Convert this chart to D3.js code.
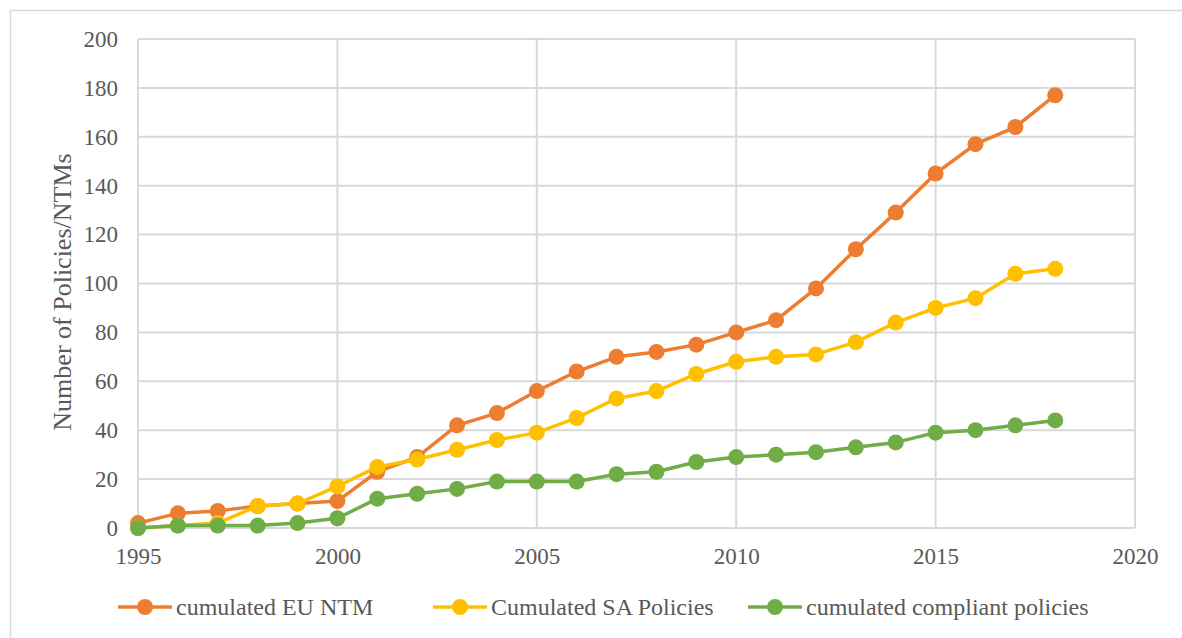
<!DOCTYPE html>
<html>
<head>
<meta charset="utf-8">
<script src="https://cdn.jsdelivr.net/npm/d3@7"></script>
<style>
  body { margin: 0; background: #fff; }
  svg { display: block; }
  svg text { font-family: "Liberation Serif", "Times New Roman", Times, "DejaVu Serif", serif; }
</style>
</head>
<body>
<div id="chart"></div>
<script>
// years on the x axis
var years = [1995, 1996, 1997, 1998, 1999, 2000, 2001, 2002, 2003, 2004, 2005, 2006,
  2007, 2008, 2009, 2010, 2011, 2012, 2013, 2014, 2015, 2016, 2017, 2018];

// series values
var euNtm = [2, 6, 7, 9, 10, 11, 23, 29, 42, 47, 56, 64, 70, 72, 75, 80, 85, 98, 114, 129, 145, 157, 164, 177];
var saPolicies = [0, 1, 2, 9, 10, 17, 25, 28, 32, 36, 39, 45, 53, 56, 63, 68, 70, 71, 76, 84, 90, 94, 104, 106];
var compliant = [0, 1, 1, 1, 2, 4, 12, 14, 16, 19, 19, 19, 22, 23, 27, 29, 30, 31, 33, 35, 39, 40, 42, 44];

var seriesNames = ["cumulated EU NTM", "Cumulated SA Policies", "cumulated compliant policies"];
var seriesColors = ["#ED7D31", "#FFC000", "#70AD47"];

var xTicks = [1995, 2000, 2005, 2010, 2015, 2020];
var yTicks = [0, 20, 40, 60, 80, 100, 120, 140, 160, 180, 200];

var svgWidth = 1182, svgHeight = 638;
var margin = { top: 39, right: 47, bottom: 110, left: 138 };
var width = svgWidth - margin.left - margin.right;
var height = svgHeight - margin.top - margin.bottom;

var svg = d3.select("#chart").append("svg")
  .attr("width", svgWidth)
  .attr("height", svgHeight);

// outer chart frame
svg.append("rect")
  .attr("x", 10.5).attr("y", 10.5)
  .attr("width", 1200).attr("height", 700)
  .attr("fill", "none")
  .attr("stroke", "#d9d9d9")
  .attr("stroke-width", 1.5);

var g = svg.append("g")
  .attr("transform", "translate(" + margin.left + "," + margin.top + ")");

var x = d3.scaleLinear().domain([1995, 2020]).range([0, width]);
var y = d3.scaleLinear().domain([0, 200]).range([height, 0]);

// grid lines
g.append("g")
  .selectAll("line")
  .data(yTicks)
  .join("line")
  .attr("x1", 0).attr("x2", width)
  .attr("y1", function (d) { return y(d); })
  .attr("y2", function (d) { return y(d); })
  .attr("stroke", "#d9d9d9")
  .attr("stroke-width", 2);

g.append("g")
  .selectAll("line")
  .data(xTicks)
  .join("line")
  .attr("x1", function (d) { return x(d); })
  .attr("x2", function (d) { return x(d); })
  .attr("y1", 0).attr("y2", height)
  .attr("stroke", "#d9d9d9")
  .attr("stroke-width", 2);

// axes (labels only)
var yAxis = g.append("g")
  .call(d3.axisLeft(y).tickValues(yTicks).tickSize(0).tickPadding(20));
yAxis.select(".domain").remove();
yAxis.attr("font-family", null);
yAxis.selectAll("text")
  .attr("font-size", 23)
  .attr("fill", "#595959");

var xAxis = g.append("g")
  .attr("transform", "translate(0," + height + ")")
  .call(d3.axisBottom(x).tickValues(xTicks).tickFormat(d3.format("d")).tickSize(0).tickPadding(20));
xAxis.select(".domain").remove();
xAxis.attr("font-family", null);
xAxis.selectAll("text")
  .attr("font-size", 23)
  .attr("fill", "#595959");

// y axis title
svg.append("text")
  .attr("transform", "translate(62," + 292 + ") rotate(-90)")
  .attr("text-anchor", "middle")
  .attr("dy", "0.35em")
  .attr("font-size", 26)
  .attr("fill", "#595959")
  .text("Number of Policies/NTMs");

// lines + markers
var allSeries = [euNtm, saPolicies, compliant];

var line = d3.line()
  .x(function (d, i) { return x(years[i]); })
  .y(function (d) { return y(d); });

allSeries.forEach(function (vals, s) {
  g.append("path")
    .datum(vals)
    .attr("fill", "none")
    .attr("stroke", seriesColors[s])
    .attr("stroke-width", 3.5)
    .attr("stroke-linejoin", "round")
    .attr("d", line);

  g.append("g")
    .selectAll("circle")
    .data(vals)
    .join("circle")
    .attr("cx", function (d, i) { return x(years[i]); })
    .attr("cy", function (d) { return y(d); })
    .attr("r", 8)
    .attr("fill", seriesColors[s]);
});

// legend
var legendX = [118, 433, 748];
var legend = svg.append("g").attr("transform", "translate(0,607)");
seriesNames.forEach(function (name, s) {
  var lg = legend.append("g").attr("transform", "translate(" + legendX[s] + ",0)");
  lg.append("line")
    .attr("x1", 0).attr("x2", 54)
    .attr("y1", 0).attr("y2", 0)
    .attr("stroke", seriesColors[s])
    .attr("stroke-width", 3.5);
  lg.append("circle")
    .attr("cx", 27).attr("cy", 0).attr("r", 8)
    .attr("fill", seriesColors[s]);
  lg.append("text")
    .attr("x", 58).attr("y", 0)
    .attr("dy", "0.33em")
    .attr("font-size", 24)
    .attr("fill", "#595959")
    .text(name);
});
</script>
</body>
</html>
